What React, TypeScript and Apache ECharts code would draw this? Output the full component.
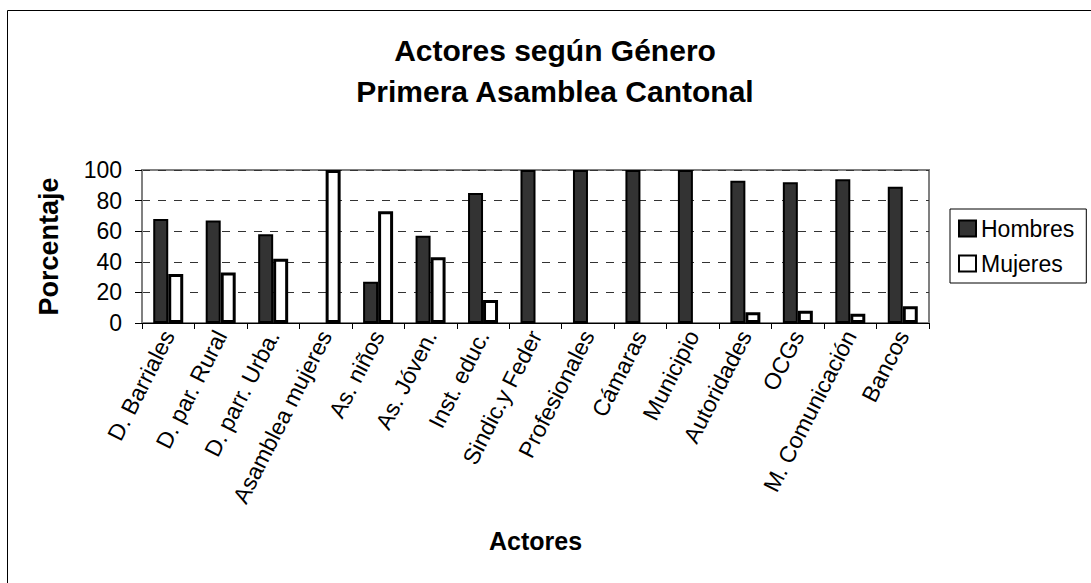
import React, { useEffect, useRef } from "react";
import * as echarts from "echarts";

const categories = [
  "D. Barriales",
  "D. par. Rural",
  "D. parr. Urba.",
  "Asamblea mujeres",
  "As. niños",
  "As. Jóven.",
  "Inst. educ.",
  "Sindic.y Feder",
  "Profesionales",
  "Cámaras",
  "Municipio",
  "Autoridades",
  "OCGs",
  "M. Comunicación",
  "Bancos",
];
const hombres = [68, 67, 58, 0, 27, 57, 85, 100, 100, 100, 100, 93, 92, 94, 89];
const mujeres = [32, 33, 42, 100, 73, 43, 15, 0, 0, 0, 0, 7, 8, 6, 11];
const yTicks = { min: 0, max: 100, interval: 20 };

const FONT = 'Arial, "Liberation Sans", sans-serif';

// zero-height bars get no outline, as in the original chart
const toItems = (vals: number[]) =>
  vals.map((v) => (v === 0 ? { value: v, itemStyle: { borderWidth: 0 } } : v));

export default function App() {
  const ref = useRef<HTMLDivElement>(null);
  useEffect(() => {
    if (!ref.current) return;
    const chart = echarts.init(ref.current, undefined, { renderer: "svg" });
    chart.setOption({
      animation: false,
      backgroundColor: "#ffffff",
      textStyle: { fontFamily: FONT },
      title: {
        text: "Actores según Género\nPrimera Asamblea Cantonal",
        left: 555,
        top: 30,
        textAlign: "center",
        padding: 0,
        textStyle: {
          fontFamily: FONT,
          fontSize: 30,
          fontWeight: "bold",
          color: "#000",
          lineHeight: 41,
        },
      },
      graphic: [
        {
          type: "rect",
          silent: true,
          z: -10,
          shape: { x: 7.5, y: 10.5, width: 1200, height: 700 },
          style: { fill: "none", stroke: "#000", lineWidth: 1 },
        },
      ],
      legend: {
        orient: "vertical",
        left: 950,
        top: 209,
        padding: [8, 12, 8, 8],
        itemGap: 12,
        itemWidth: 17,
        itemHeight: 16,
        itemTextGap: 4,
        icon: "rect",
        borderColor: "#000",
        borderWidth: 1,
        textStyle: { fontFamily: FONT, fontSize: 23, color: "#000" },
        data: ["Hombres", "Mujeres"],
      },
      grid: {
        left: 142,
        right: 162,
        top: 170,
        bottom: 260,
        show: true,
        borderColor: "#808080",
        borderWidth: 2,
        containLabel: false,
      },
      xAxis: {
        type: "category",
        data: categories,
        name: "Actores",
        nameLocation: "middle",
        nameGap: 205,
        nameTextStyle: { fontFamily: FONT, fontSize: 25, fontWeight: "bold", color: "#000" },
        axisLine: { lineStyle: { color: "#000", width: 1 } },
        axisTick: { show: true, length: 6, lineStyle: { color: "#000" } },
        axisLabel: {
          rotate: 63,
          fontFamily: FONT,
          fontSize: 23,
          color: "#000",
          margin: 9,
          interval: 0,
        },
      },
      yAxis: {
        type: "value",
        min: yTicks.min,
        max: yTicks.max,
        interval: yTicks.interval,
        name: "Porcentaje",
        nameLocation: "middle",
        nameGap: 80,
        nameTextStyle: { fontFamily: FONT, fontSize: 27, fontWeight: "bold", color: "#000" },
        axisLine: { show: true, lineStyle: { color: "#808080", width: 2 } },
        axisTick: { show: true, length: 7, lineStyle: { color: "#000" } },
        axisLabel: { fontFamily: FONT, fontSize: 23, color: "#000", margin: 20 },
        splitLine: {
          show: true,
          lineStyle: { color: "#333", type: [8, 8], width: 1 },
        },
      },
      series: [
        {
          name: "Hombres",
          type: "bar",
          data: toItems(hombres),
          barWidth: 15,
          barGap: "0%",
          itemStyle: { color: "#333333", borderColor: "#000", borderWidth: 2 },
        },
        {
          name: "Mujeres",
          type: "bar",
          data: toItems(mujeres),
          barWidth: 15,
          barGap: "0%",
          itemStyle: { color: "#ffffff", borderColor: "#000", borderWidth: 3 },
        },
      ],
    });
    return () => chart.dispose();
  }, []);
  return (
    <div
      ref={ref}
      style={{ position: "absolute", left: 0, top: 0, width: 1091, height: 583 }}
    />
  );
}
